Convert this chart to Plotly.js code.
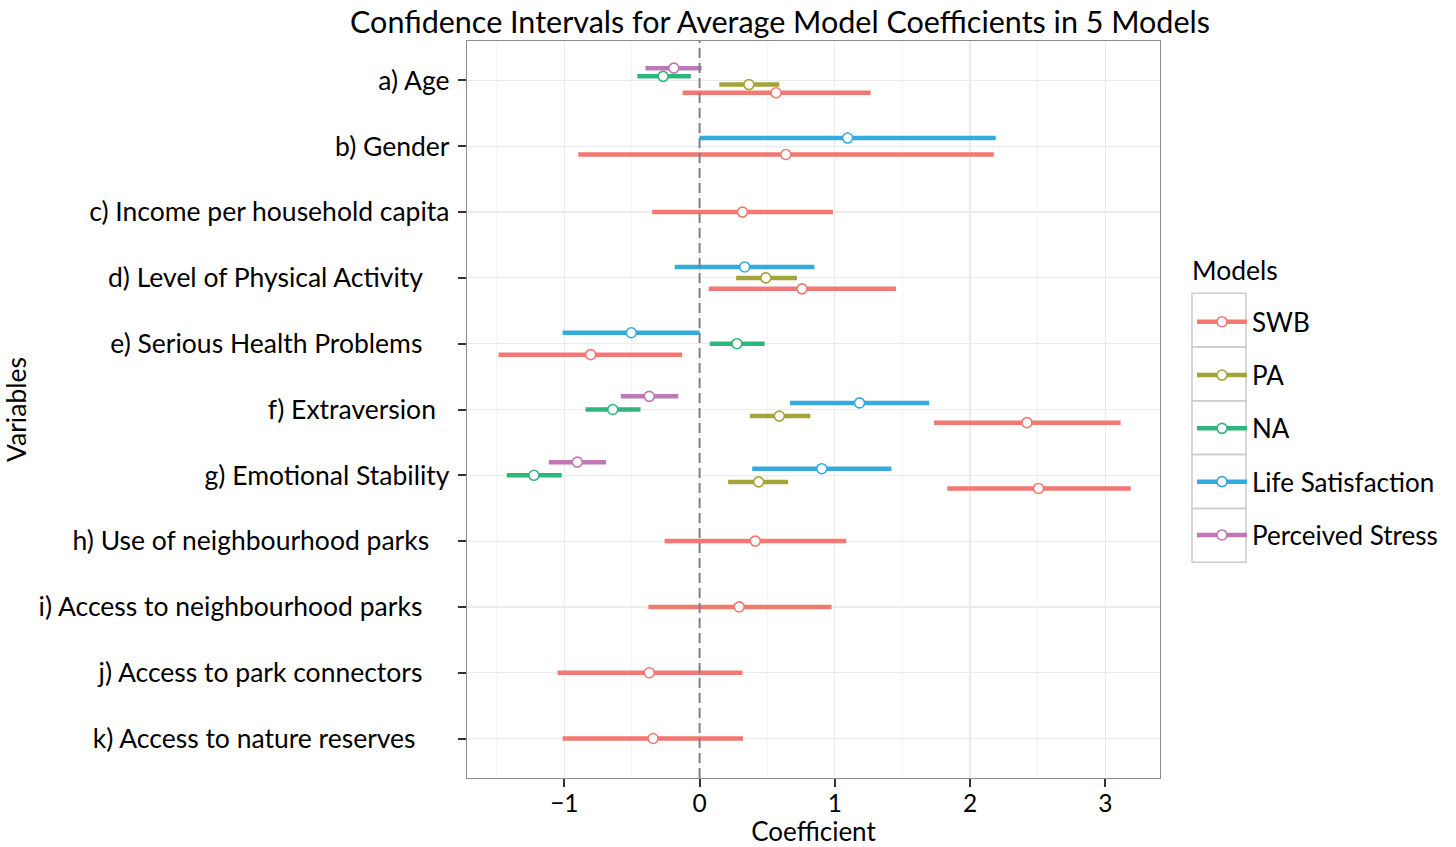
<!DOCTYPE html>
<html>
<head>
<meta charset="utf-8">
<script src="https://cdn.plot.ly/plotly-3.0.1.min.js"></script>
<style>html,body{margin:0;padding:0;background:#fff;}#chart{width:1456px;height:847px;}</style>
</head>
<body>
<div id="chart"></div>
<script>
// ---- Data ----
const variables = [
  "a) Age",
  "b) Gender",
  "c) Income per household capita",
  "d) Level of Physical Activity\u00a0\u00a0\u00a0\u00a0",
  "e) Serious Health Problems\u00a0\u00a0\u00a0\u00a0",
  "f) Extraversion\u00a0\u00a0",
  "g) Emotional Stability",
  "h) Use of neighbourhood parks\u00a0\u00a0\u00a0",
  "i) Access to neighbourhood parks\u00a0\u00a0\u00a0\u00a0",
  "j) Access to park connectors\u00a0\u00a0\u00a0\u00a0",
  "k) Access to nature reserves\u00a0\u00a0\u00a0\u00a0\u00a0"
];
const models = ["SWB", "PA", "NA", "Life Satisfaction", "Perceived Stress"];
const modelColors = ["#F47872", "#A3A53A", "#2DB77B", "#33ABE0", "#BF77B8"];
// dodge order from top to bottom within each variable row
const dodgeOrder = ["Perceived Stress", "Life Satisfaction", "NA", "PA", "SWB"];

const swbEst = [0.566, 0.638, 0.317, 0.758, -0.805, 2.421, 2.507, 0.412, 0.293, -0.372, -0.344];
const swbLo  = [-0.126, -0.897, -0.351, 0.068, -1.487, 1.733, 1.832, -0.259, -0.378, -1.050, -1.013];
const swbHi  = [1.265, 2.176, 0.986, 1.453, -0.129, 3.114, 3.189, 1.085, 0.976, 0.317, 0.321];

const paEst = [0.365, null, null, 0.490, null, 0.590, 0.437, null, null, null, null];
const paLo  = [0.146, null, null, 0.270, null, 0.372, 0.211, null, null, null, null];
const paHi  = [0.590, null, null, 0.720, null, 0.819, 0.655, null, null, null, null];

const naEst = [-0.270, null, null, null, 0.276, -0.642, -1.225, null, null, null, null];
const naLo  = [-0.460, null, null, null, 0.075, -0.843, -1.426, null, null, null, null];
const naHi  = [-0.065, null, null, null, 0.481, -0.437, -1.020, null, null, null, null];

const lsEst = [null, 1.095, null, 0.334, -0.505, 1.183, 0.904, null, null, null, null];
const lsLo  = [null, 0.000, null, -0.184, -1.013, 0.669, 0.389, null, null, null, null];
const lsHi  = [null, 2.190, null, 0.849, 0.000, 1.698, 1.419, null, null, null, null];

const psEst = [-0.190, null, null, null, null, -0.372, -0.904, null, null, null, null];
const psLo  = [-0.400, null, null, null, null, -0.583, -1.115, null, null, null, null];
const psHi  = [0.015, null, null, null, null, -0.157, -0.692, null, null, null, null];

const xTicks = [-1, 0, 1, 2, 3];
const xMinorTicks = [-1.5, -0.5, 0.5, 1.5, 2.5];
const refLine = 0;

// ---- Build ----
const series = {
  "SWB": {est: swbEst, lo: swbLo, hi: swbHi},
  "PA": {est: paEst, lo: paLo, hi: paHi},
  "NA": {est: naEst, lo: naLo, hi: naHi},
  "Life Satisfaction": {est: lsEst, lo: lsLo, hi: lsHi},
  "Perceived Stress": {est: psEst, lo: psLo, hi: psHi}
};
const dodgeWidth = 0.5;
function yPos(model, i) {
  const present = dodgeOrder.filter(m => series[m].est[i] !== null);
  const n = present.length;
  const k = present.indexOf(model);
  return i + (k - (n - 1) / 2) * (dodgeWidth / n);
}

const traces = [];
models.forEach((m, mi) => {
  const s = series[m];
  const lx = [], ly = [];
  s.est.forEach((v, i) => {
    if (v === null) return;
    const y = yPos(m, i);
    lx.push(s.lo[i], s.hi[i], null);
    ly.push(y, y, null);
  });
  traces.push({
    type: "scatter", mode: "lines", x: lx, y: ly,
    line: {color: modelColors[mi], width: 4.5},
    showlegend: false, hoverinfo: "skip", legendgroup: m
  });
});
models.forEach((m, mi) => {
  const s = series[m];
  const px = [], py = [];
  s.est.forEach((v, i) => {
    if (v === null) return;
    px.push(v, null);
    py.push(yPos(m, i), null);
  });
  traces.push({
    type: "scatter", mode: "lines+markers", name: m, x: px, y: py,
    connectgaps: false,
    line: {color: modelColors[mi], width: 4.5},
    marker: {symbol: "circle", size: 10, color: "#ffffff", line: {color: modelColors[mi], width: 1.6}},
    legendgroup: m
  });
});

const L = 467, R = 1160, T = 40.5, B = 778;
const W = R - L, H = B - T;
const px2x = p => (p - L) / W;
const py2y = p => (B - p) / H;

const shapes = [{
  type: "line", xref: "x", yref: "paper", x0: refLine, x1: refLine, y0: 0, y1: 1,
  line: {color: "#7F7F7F", width: 2, dash: "10px,5px"}, layer: "above"
}];
for (let i = 0; i < models.length; i++) {
  shapes.push({
    type: "rect", xref: "paper", yref: "paper",
    x0: px2x(1192), x1: px2x(1246),
    y0: py2y(293 + 53.8 * (i + 1)), y1: py2y(293 + 53.8 * i),
    line: {color: "#CCCCCC", width: 1.5}, fillcolor: "rgba(0,0,0,0)", layer: "below"
  });
}

const font = "Lato, 'Open Sans', sans-serif";
const fs = 26.5;
const layout = {
  width: 1456, height: 847,
  paper_bgcolor: "#ffffff", plot_bgcolor: "#ffffff",
  font: {family: font, size: fs, color: "#000000"},
  margin: {l: L, r: 1456 - R, t: T, b: 847 - B, pad: 0},
  title: {text: "Confidence Intervals for Average Model Coefficients in 5 Models",
          font: {family: font, size: 30.5, color: "#000"},
          xref: "container", yref: "container", x: 780 / 1456, xanchor: "center",
          y: 1 - 22 / 847, yanchor: "middle"},
  xaxis: {
    range: [-1.72, 3.405], tickvals: xTicks, ticks: "outside", ticklen: 8, tickwidth: 2, tickcolor: "#333",
    ticklabelstandoff: -5,
    showgrid: true, gridcolor: "#EBEBEB", gridwidth: 1.2, zeroline: false,
    minor: {tickmode: "array", tickvals: xMinorTicks, showgrid: true, gridcolor: "#F4F4F4", gridwidth: 1, ticks: ""},
    showline: true, mirror: true, linecolor: "#8C8C8C", linewidth: 1.2,
    tickfont: {size: 24.5, color: "#000"},
    title: {text: "Coefficient", font: {size: 26, color: "#000"}, standoff: 10},
    automargin: false, fixedrange: true
  },
  yaxis: {
    range: [10.6, -0.6], tickvals: variables.map((v, i) => i), ticktext: variables,
    ticks: "outside", ticklen: 8, tickwidth: 2, tickcolor: "#333", ticklabelstandoff: 3,
    showgrid: true, gridcolor: "#EBEBEB", gridwidth: 1.2, zeroline: false,
    showline: true, mirror: true, linecolor: "#8C8C8C", linewidth: 1.2,
    tickfont: {size: fs, color: "#000"},
    title: {text: "Variables", font: {size: fs, color: "#000"}, standoff: 4},
    automargin: false, fixedrange: true
  },
  legend: {
    x: px2x(1192), xanchor: "left", y: py2y(298), yanchor: "top",
    font: {size: 26, color: "#000"}, tracegroupgap: 16.5, itemwidth: 50,
    bgcolor: "rgba(0,0,0,0)", borderwidth: 0
  },
  annotations: [{
    text: "Models", xref: "paper", yref: "paper", x: px2x(1190), y: py2y(270),
    xanchor: "left", yanchor: "middle", showarrow: false, font: {size: 26.5, color: "#000"}
  }],
  shapes: shapes,
  showlegend: true
};

Plotly.newPlot("chart", traces, layout, {displayModeBar: false, staticPlot: true});
</script>
</body>
</html>
